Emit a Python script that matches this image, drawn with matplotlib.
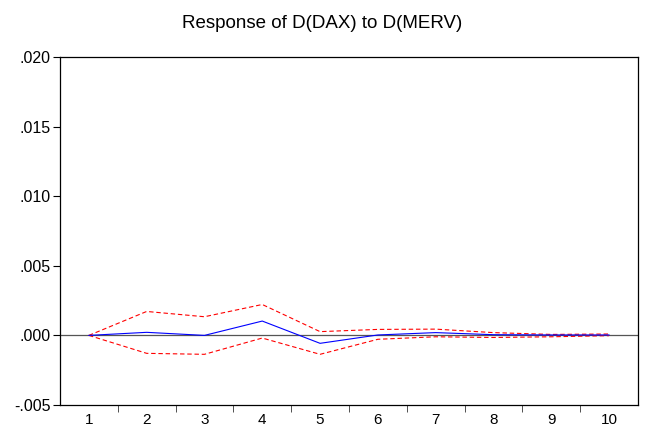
import numpy as np
import matplotlib.pyplot as plt

plt.rcParams['font.family'] = ['Liberation Sans', 'DejaVu Sans']

periods = [1, 2, 3, 4, 5, 6, 7, 8, 9, 10]
response = [0.0, 0.00022, 0.0, 0.00103, -0.00057, 0.00003, 0.0002, 0.00005, 0.00003, 0.00003]
upper = [0.0, 0.00172, 0.00134, 0.00222, 0.00027, 0.00043, 0.00045, 0.0002, 0.00007, 0.0001]
lower = [0.0, -0.00129, -0.00136, -0.00019, -0.00136, -0.00028, -0.0001, -0.00015, -0.0001, -0.00002]

fig = plt.figure(figsize=(6.45, 4.29), dpi=100)
ax = fig.add_axes([0.093, 0.056, 0.896, 0.811])

ax.axhline(0, color='#555555', lw=0.9)
ax.plot(periods, upper, color='red', lw=0.8, ls=(0, (4, 2.5)))
ax.plot(periods, lower, color='red', lw=0.8, ls=(0, (4, 2.5)))
ax.plot(periods, response, color='blue', lw=0.8)

ax.set_xlim(0.5, 10.5)
ax.set_ylim(-0.005, 0.020)
ax.set_yticks(np.arange(-0.005, 0.0201, 0.005))
ax.set_yticklabels(['-.005', '.000', '.005', '.010', '.015', '.020'])
ax.set_xticks(periods)
ax.set_xticklabels([str(p) for p in periods])
ax.set_xticks(np.arange(1.5, 10.5, 1), minor=True)
ax.tick_params(axis='x', which='major', length=0, labelsize=11, pad=6)
ax.tick_params(axis='x', which='minor', length=5, direction='out', color='#333333')
ax.tick_params(axis='y', length=5, direction='out', labelsize=11.5, pad=2)
for s in ax.spines.values():
    s.set_linewidth(0.9)

fig.suptitle('Response of D(DAX) to D(MERV)', y=0.965, fontsize=13.5)
fig.savefig('out.png', dpi=100)
